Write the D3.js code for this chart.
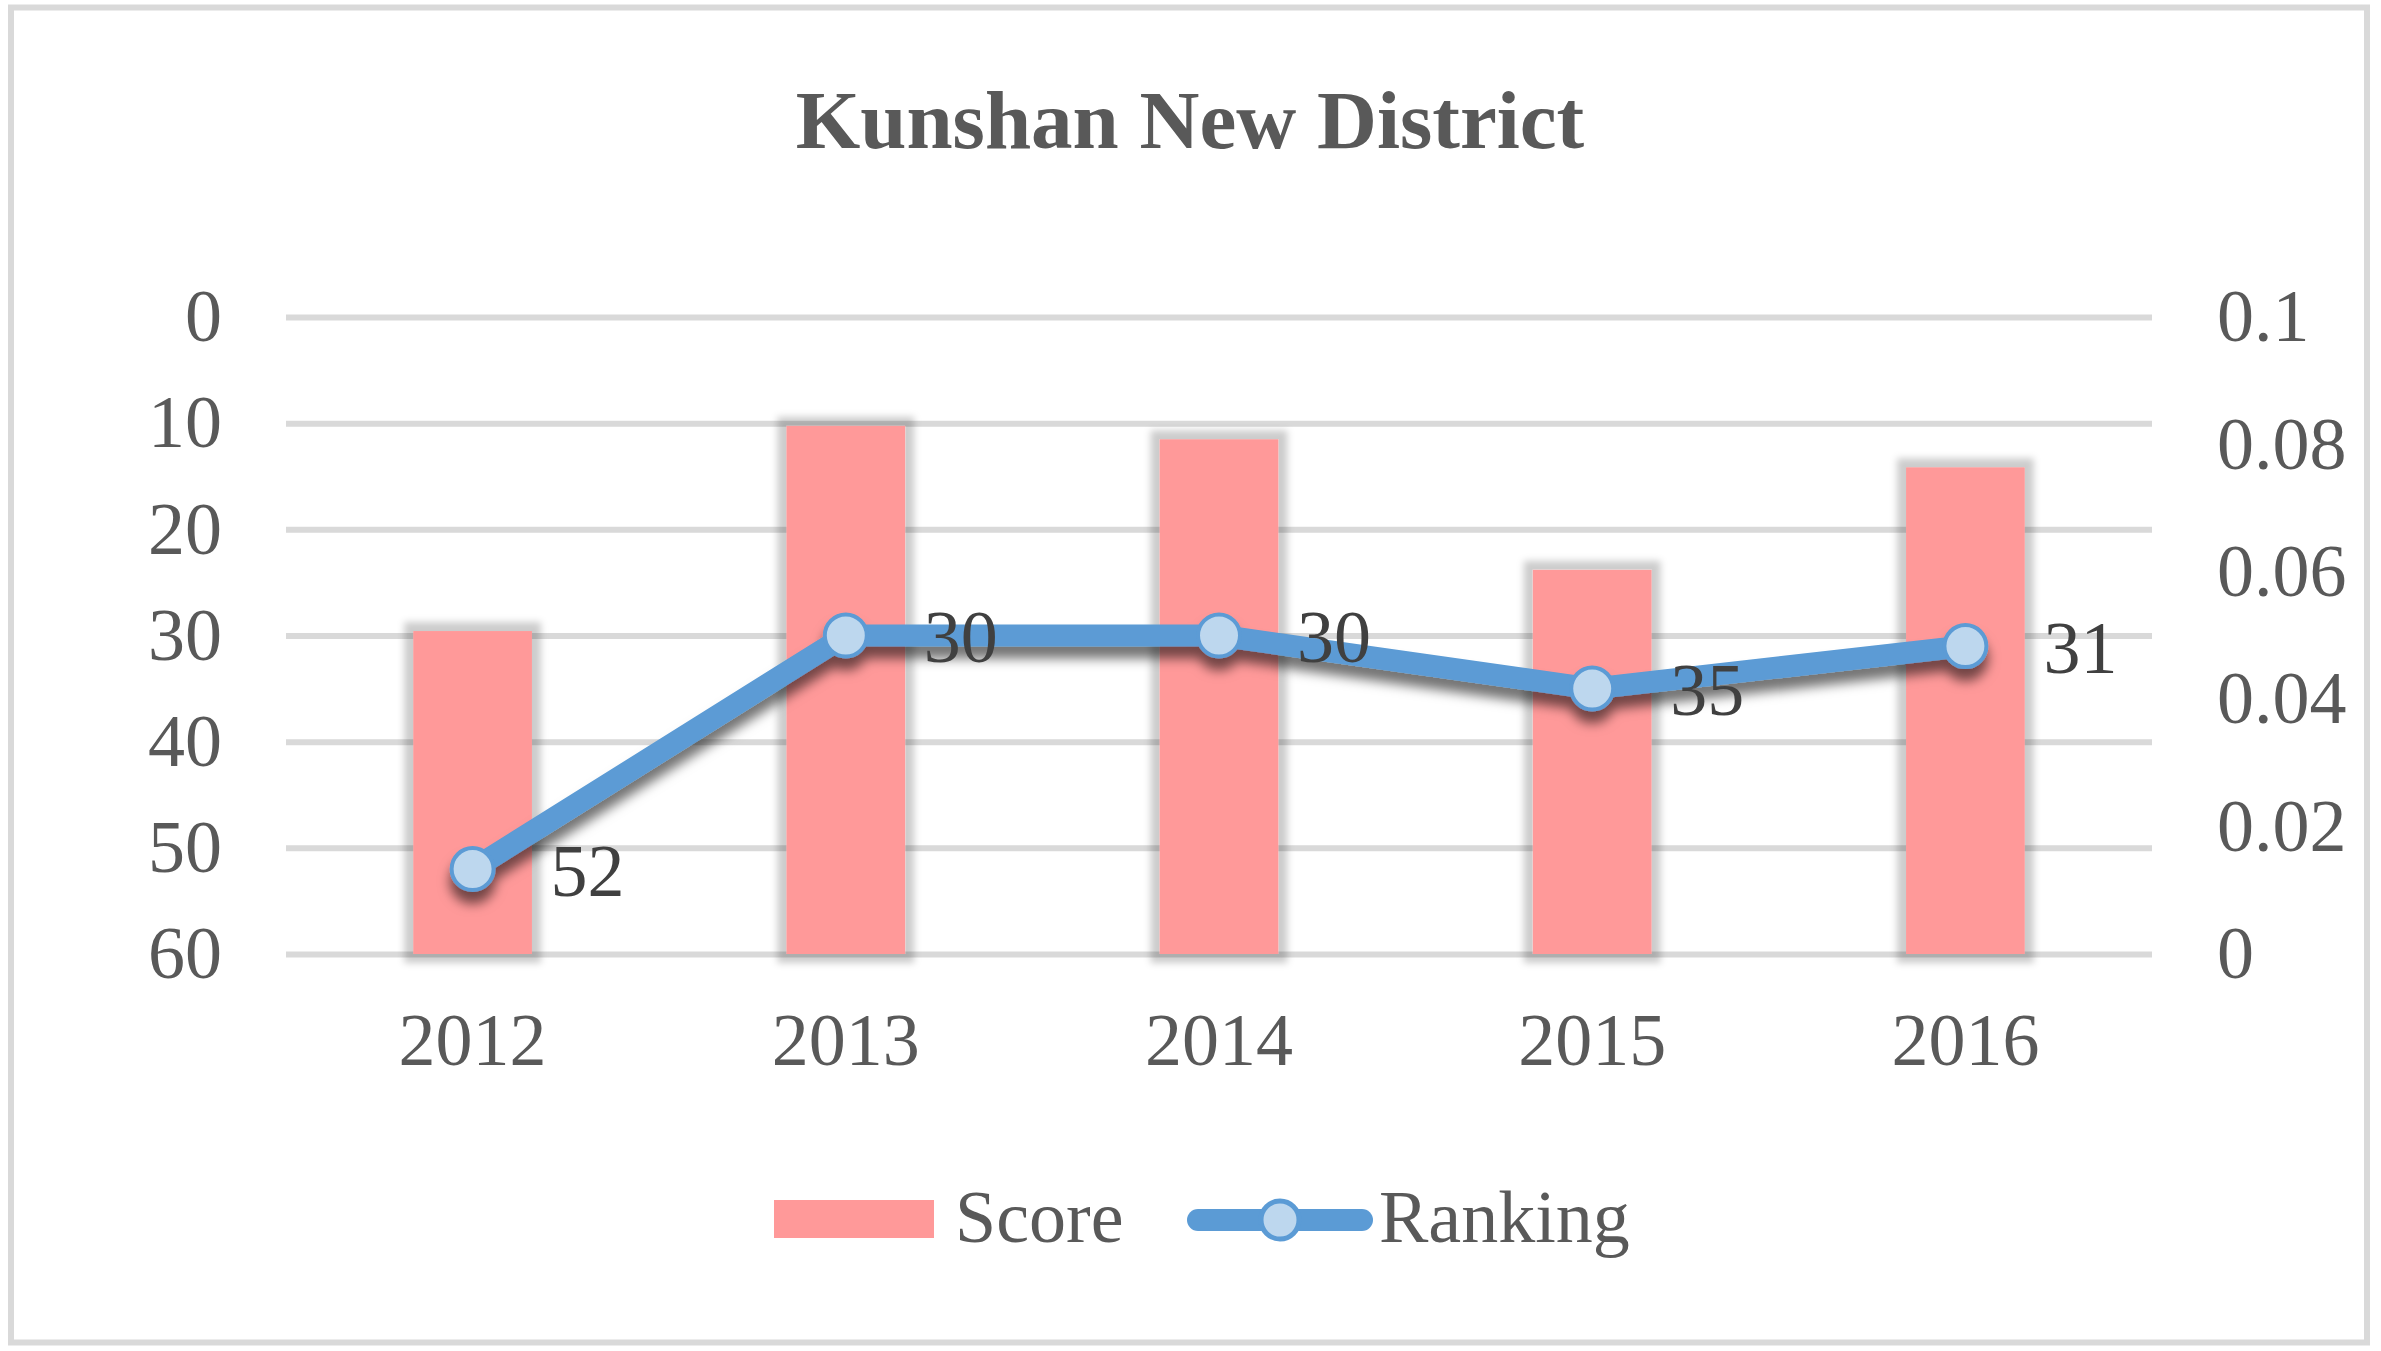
<!DOCTYPE html>
<html>
<head>
<meta charset="utf-8">
<script src="https://cdn.jsdelivr.net/npm/d3@7"></script>
<style>
  html, body { margin: 0; padding: 0; background: #fff; }
  svg { display: block; }
  text { font-family: "Liberation Serif", "Times New Roman", serif; }
</style>
</head>
<body>
<svg id="chart" width="2381" height="1351"></svg>
<script>
// data
var years = ["2012", "2013", "2014", "2015", "2016"];
var score = [0.0507, 0.0829, 0.0808, 0.0603, 0.0764];
var ranking = [52, 30, 30, 35, 31];
var rankTicks = [0, 10, 20, 30, 40, 50, 60];
var scoreTicks = [0, 0.02, 0.04, 0.06, 0.08, 0.1];

var svg = d3.select("#chart"),
    width = +svg.attr("width"),
    height = +svg.attr("height");

var plotLeft = 286, plotRight = 2152, plotTop = 317, plotBottom = 954;

var defs = svg.append("defs");

// soft halo round the bars
var fb = defs.append("filter").attr("id", "barShadow")
    .attr("x", "-30%").attr("y", "-10%").attr("width", "160%").attr("height", "120%");
fb.append("feMorphology").attr("in", "SourceAlpha").attr("operator", "dilate").attr("radius", 9).attr("result", "d");
fb.append("feGaussianBlur").attr("in", "d").attr("stdDeviation", 3.5).attr("result", "b");
fb.append("feFlood").attr("flood-color", "#000").attr("flood-opacity", 0.2);
fb.append("feComposite").attr("in2", "b").attr("operator", "in").attr("result", "s");
var fbm = fb.append("feMerge");
fbm.append("feMergeNode").attr("in", "s");
fbm.append("feMergeNode").attr("in", "SourceGraphic");

// drop shadow under the line
var fl = defs.append("filter").attr("id", "lineShadow")
    .attr("x", "-10%").attr("y", "-20%").attr("width", "120%").attr("height", "150%");
fl.append("feDropShadow").attr("dx", 0).attr("dy", 12).attr("stdDeviation", 6)
    .attr("flood-color", "#000").attr("flood-opacity", 0.55);

// outer frame
svg.append("rect")
    .attr("x", 11).attr("y", 7.5)
    .attr("width", 2356).attr("height", 1335)
    .attr("fill", "#fff")
    .attr("stroke", "#D9D9D9")
    .attr("stroke-width", 6);

// title
svg.append("text")
    .attr("x", 1190).attr("y", 148)
    .attr("text-anchor", "middle")
    .attr("font-size", 83)
    .attr("font-weight", "bold")
    .attr("fill", "#595959")
    .text("Kunshan New District");

var x = d3.scaleBand().domain(years).range([plotLeft, plotRight]).padding(0);
var yRank = d3.scaleLinear().domain([0, 60]).range([plotTop, plotBottom]);
var yScore = d3.scaleLinear().domain([0, 0.1]).range([plotBottom, plotTop]);

// gridlines from the left axis
svg.append("g")
    .attr("transform", "translate(" + plotLeft + ",0)")
    .call(d3.axisRight(yRank).tickValues(rankTicks).tickSize(plotRight - plotLeft).tickFormat(""))
    .call(function(g) {
      g.select(".domain").remove();
      g.selectAll("line").attr("stroke", "#D9D9D9").attr("stroke-width", 6);
    });

// left axis (ranking, reversed)
svg.append("g")
    .attr("transform", "translate(222,0)")
    .call(d3.axisLeft(yRank).tickValues(rankTicks).tickSize(0).tickPadding(0))
    .call(function(g) {
      g.select(".domain").remove();
      g.selectAll("text")
        .attr("font-size", 74)
        .attr("fill", "#595959")
        .attr("font-family", "Liberation Serif, Times New Roman, serif");
    });

// right axis (score)
svg.append("g")
    .attr("transform", "translate(2217,0)")
    .call(d3.axisRight(yScore).tickValues(scoreTicks).tickSize(0).tickPadding(0)
      .tickFormat(function(d) { return String(+d.toFixed(2)); }))
    .call(function(g) {
      g.select(".domain").remove();
      g.selectAll("text")
        .attr("font-size", 74)
        .attr("fill", "#595959")
        .attr("font-family", "Liberation Serif, Times New Roman, serif");
    });

// bottom axis (years)
svg.append("g")
    .attr("transform", "translate(0," + plotBottom + ")")
    .call(d3.axisBottom(x).tickSize(0).tickPadding(0))
    .call(function(g) {
      g.select(".domain").remove();
      g.selectAll("text")
        .attr("dy", null)
        .attr("y", 111)
        .attr("font-size", 74)
        .attr("fill", "#595959")
        .attr("font-family", "Liberation Serif, Times New Roman, serif");
    });

// bars
var barW = x.bandwidth() * 0.318;
svg.append("g")
    .attr("filter", "url(#barShadow)")
    .selectAll("rect")
    .data(years)
    .enter()
    .append("rect")
      .attr("x", function(d) { return x(d) + x.bandwidth() / 2 - barW / 2; })
      .attr("y", function(d, i) { return yScore(score[i]); })
      .attr("width", barW)
      .attr("height", function(d, i) { return plotBottom - yScore(score[i]); })
      .attr("fill", "#FF9999");

// ranking line
var pts = years.map(function(d, i) { return [x(d) + x.bandwidth() / 2, yRank(ranking[i])]; });
var lg = svg.append("g").attr("filter", "url(#lineShadow)");
lg.append("path")
    .attr("d", d3.line()(pts))
    .attr("fill", "none")
    .attr("stroke", "#5B9BD5")
    .attr("stroke-width", 22)
    .attr("stroke-linejoin", "round");
lg.selectAll("circle")
    .data(pts)
    .enter()
    .append("circle")
      .attr("cx", function(d) { return d[0]; })
      .attr("cy", function(d) { return d[1]; })
      .attr("r", 21)
      .attr("fill", "#BDD7EE")
      .attr("stroke", "#5B9BD5")
      .attr("stroke-width", 4);

// data labels
svg.append("g")
    .selectAll("text")
    .data(pts)
    .enter()
    .append("text")
      .attr("x", function(d) { return d[0] + 78; })
      .attr("y", function(d) { return d[1]; })
      .attr("dy", "0.36em")
      .attr("font-size", 74)
      .attr("fill", "#404040")
      .text(function(d, i) { return ranking[i]; });

// legend
var leg = svg.append("g");
leg.append("rect")
    .attr("x", 774).attr("y", 1200).attr("width", 160).attr("height", 38)
    .attr("fill", "#FF9999");
leg.append("text")
    .attr("x", 955).attr("y", 1242)
    .attr("font-size", 74).attr("fill", "#595959")
    .text("Score");
leg.append("line")
    .attr("x1", 1198).attr("x2", 1362).attr("y1", 1220).attr("y2", 1220)
    .attr("stroke", "#5B9BD5").attr("stroke-width", 22).attr("stroke-linecap", "round");
leg.append("circle")
    .attr("cx", 1280).attr("cy", 1220).attr("r", 19)
    .attr("fill", "#BDD7EE").attr("stroke", "#5B9BD5").attr("stroke-width", 5);
leg.append("text")
    .attr("x", 1379).attr("y", 1242)
    .attr("font-size", 74).attr("fill", "#595959")
    .text("Ranking");
</script>
</body>
</html>
